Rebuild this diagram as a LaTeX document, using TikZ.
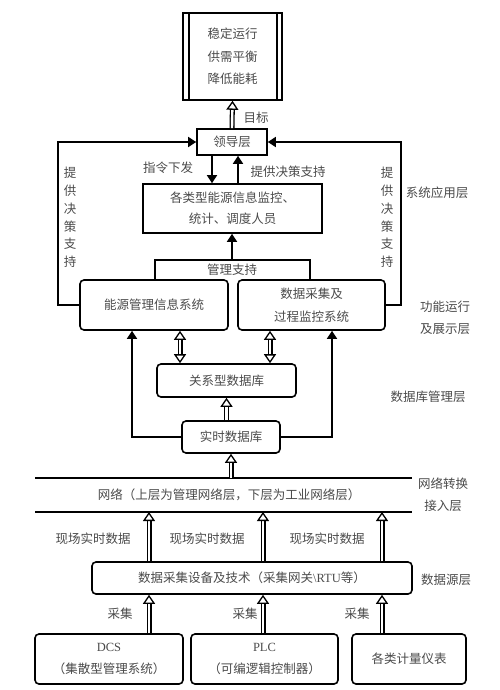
\documentclass[tikz,border=0pt]{standalone}
\usepackage{fontspec}
\setmainfont{Liberation Serif}
\newfontfamily\cjk{Noto Sans CJK SC}
\usetikzlibrary{arrows.meta}
\definecolor{txt}{HTML}{4A4A4A}
\begin{document}
\begin{tikzpicture}[x=1pt,y=-1pt,
  every node/.style={font=\cjk\fontsize{12.5}{15}\selectfont, text=txt},
  box/.style={draw=black, line width=1.6pt, rounded corners=4pt, inner sep=0pt, align=center},
  sqbox/.style={draw=black, line width=1.6pt, inner sep=0pt, align=center},
  lbl/.style={inner sep=0pt, align=center},
  conn/.style={line width=1.6pt, -{Triangle[length=8pt,width=10pt]}},
  plain/.style={line width=1.6pt},
  hol/.style={line width=1.3pt, double=white, double distance=2.4pt, -{Triangle[open,length=9pt,width=12pt]}},
  holtwo/.style={line width=1.3pt, double=white, double distance=2.4pt, {Triangle[open,length=9pt,width=12pt]}-{Triangle[open,length=9pt,width=12pt]}},
  ]
\useasboundingbox (0,0) rectangle (500,690);
% nodes
\node[sqbox, minimum width=99pt, minimum height=87pt, font=\cjk\fontsize{12.5}{22.5}\selectfont] (goal) at (232.5,56.5) {稳定运行\\供需平衡\\降低能耗};
\draw[line width=1.6pt] ([xshift=7pt]goal.north west) -- ([xshift=7pt]goal.south west);
\draw[line width=1.6pt] ([xshift=-6pt]goal.north east) -- ([xshift=-6pt]goal.south east);
\node[sqbox, minimum width=70pt, minimum height=26pt] (lead) at (232,142) {领导层};
\node[sqbox, minimum width=179pt, minimum height=49pt, font=\cjk\fontsize{12.5}{21}\selectfont] (staff) at (232.5,208.5) {各类型能源信息监控、\\统计、调度人员};
\node[box, minimum width=148pt, minimum height=50pt] (ems) at (154,305) {能源管理信息系统};
\node[box, minimum width=147pt, minimum height=50pt, font=\cjk\fontsize{12.5}{23}\selectfont] (das) at (311.5,305) {数据采集及\\过程监控系统};
\node[box, minimum width=139pt, minimum height=33pt] (rdb) at (226.5,380.5) {关系型数据库};
\node[box, minimum width=98pt, minimum height=32pt] (rtdb) at (231,437) {实时数据库};
\node[box, minimum width=320pt, minimum height=32pt] (acq) at (252,578) {数据采集设备及技术（采集网关{\rmfamily\textbackslash RTU}等）};
\node[box, minimum width=148pt, minimum height=50pt, font=\cjk\fontsize{12.5}{22}\selectfont] (dcs) at (109,659) {{\rmfamily DCS}\\（集散型管理系统）};
\node[box, minimum width=147pt, minimum height=50pt, font=\cjk\fontsize{12.5}{22}\selectfont] (plc) at (264.5,659) {{\rmfamily PLC}\\（可编逻辑控制器）};
\node[box, minimum width=114pt, minimum height=50pt] (meter) at (409,659) {各类计量仪表};
% network lines
\coordinate (n1l) at (35,478); \coordinate (n1r) at (412,478);
\coordinate (n2l) at (35,512); \coordinate (n2r) at (412,512);
\draw[plain] (n1l) -- (n1r);
\draw[plain] (n2l) -- (n2r);
\node[lbl] (net) at (229,495) {网络（上层为管理网络层，下层为工业网络层）};
% helper coordinates
\coordinate (xa) at (212,0); \coordinate (xb) at (238,0);
\coordinate (m1) at (155,260); \coordinate (m2) at (310,260); \coordinate (mg) at (232,260);
\coordinate (h1) at (180,0); \coordinate (h2) at (270,0);
\coordinate (v1) at (132,0); \coordinate (v2) at (332,0);
\coordinate (c1) at (149,0); \coordinate (c2) at (263,0); \coordinate (c3) at (382,0);
% connectors
\draw[hol] (lead.north) -- (goal.south);
\draw[conn] (ems.west) -- ++(-21,0) |- (lead.west);
\draw[conn] (das.east) -- ++(15,0) |- (lead.east);
\draw[conn] (lead.south -| xa) -- (staff.north -| xa);
\draw[conn] (staff.north -| xb) -- (lead.south -| xb);
\draw[plain] (ems.north -| m1) -- (m1) -- (m2) -- (das.north -| m2);
\draw[conn] (mg) -- (staff.south -| mg);
\draw[holtwo] (ems.south -| h1) -- (rdb.north -| h1);
\draw[holtwo] (das.south -| h2) -- (rdb.north -| h2);
\draw[hol] (rtdb.north -| rdb.south) -- (rdb.south);
\draw[conn] (rtdb.west) -| (v1 |- ems.south);
\draw[conn] (rtdb.east) -| (v2 |- das.south);
\draw[hol] (n1l -| rtdb.south) -- (rtdb.south);
\foreach \c in {c1,c2,c3} {
  \draw[hol] (acq.north -| \c) -- (n2l -| \c);
}
\draw[hol] (dcs.north -| c1) -- (acq.south -| c1);
\draw[hol] (plc.north -| c2) -- (acq.south -| c2);
\draw[hol] (meter.north -| c3) -- (acq.south -| c3);
% labels
\node[lbl] (lgoal) at (256,118) {目标};
\node[lbl] (lcmd) at (168,168) {指令下发};
\node[lbl] (lsup) at (288,172) {提供决策支持};
\node[lbl, font=\cjk\fontsize{12.5}{17.8}\selectfont] (lsl) at (70,217.5) {提\\供\\决\\策\\支\\持};
\node[lbl, font=\cjk\fontsize{12.5}{17.8}\selectfont] (lsr) at (387,217.5) {提\\供\\决\\策\\支\\持};
\node[lbl] (lmg) at (232,270) {管理支持};
\node[lbl] (lay1) at (437,193) {系统应用层};
\node[lbl, font=\cjk\fontsize{12.5}{21.5}\selectfont] (lay2) at (445,318) {功能运行\\及展示层};
\node[lbl] (lay3) at (428,397) {数据库管理层};
\node[lbl, font=\cjk\fontsize{12.5}{22}\selectfont] (lay4) at (443,495) {网络转换\\接入层};
\node[lbl] (lay5) at (446,580) {数据源层};
\node[lbl] (r1) at (93,539) {现场实时数据};
\node[lbl] (r2) at (207,539) {现场实时数据};
\node[lbl] (r3) at (327,539) {现场实时数据};
\node[lbl] (q1) at (120,614) {采集};
\node[lbl] (q2) at (245,614) {采集};
\node[lbl] (q3) at (357,614) {采集};
\end{tikzpicture}
\end{document}
